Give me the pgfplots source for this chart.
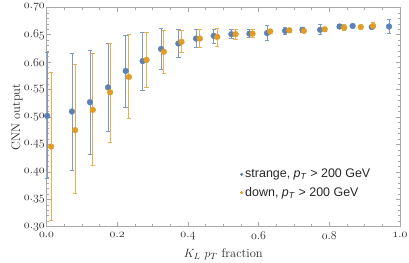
\documentclass[border=0pt]{standalone}
\usepackage{pgfplots}
\pgfplotsset{compat=1.18}
\usepackage{fontspec}
\newfontfamily\legendfont{Liberation Sans}
\definecolor{mblue}{HTML}{5E81B5}
\definecolor{morange}{HTML}{E19C24}
\definecolor{framegray}{HTML}{A8A8A8}
\newcommand\os[1]{$\mathnormal{#1}$}
\begin{document}
\begin{tikzpicture}
\begin{axis}[
  scale only axis,
  width=353.5bp, height=219.4bp,
  xmin=0, xmax=1, ymin=0.30, ymax=0.70,
  clip=false,
  axis line style={framegray, line width=0.6pt},
  every tick/.style={framegray, line width=0.5pt},
  major tick length=4.5bp, minor tick length=2.5bp,
  xtick pos=both, ytick pos=both,
  xticklabel pos=lower, yticklabel pos=left,
  xtick={0,0.2,0.4,0.6,0.8,1.0},
  xticklabels={\os{0.0},\os{0.2},\os{0.4},\os{0.6},\os{0.8},\os{1.0}},
  ytick={0.30,0.35,0.40,0.45,0.50,0.55,0.60,0.65,0.70},
  yticklabels={\os{0.30},\os{0.35},\os{0.40},\os{0.45},\os{0.50},\os{0.55},\os{0.60},\os{0.65},\os{0.70}},
  minor x tick num=3, minor y tick num=4,
  tick label style={font=\fontsize{12.5}{14}\selectfont, text=black!85},
  yticklabel style={inner sep=1pt, xshift=-0.5bp},
  xticklabel style={inner sep=1pt, yshift=-4bp},
  xlabel={$K_L$ $p_T$ fraction},
  ylabel={CNN output},
  label style={font=\fontsize{12.5}{14}\selectfont, text=black!85},
  xlabel style={at={(axis description cs:0.5,-0.127)}, anchor=center},
  ylabel style={yshift=-3bp},
  legend style={at={(0.547,0.272)}, anchor=north west, draw=none, fill=none,
    font=\legendfont\fontsize{12.5}{14}\selectfont, text=black!85, row sep=4bp, inner sep=0pt},
  legend cell align=left,
  legend image code/.code={\fill[#1] (0.15cm,0) circle (1.4pt);},
]
\coordinate (ll) at (rel axis cs:0,0);
\coordinate (ur) at (rel axis cs:1,1);
\addplot[only marks, mark=*, mark size=2.9pt, color=mblue,
  error bars/.cd, y dir=both, y explicit, error mark=|,
  error bar style={line width=0.9pt, mblue!80!white},
  error mark options={mark size=2.2pt, line width=0.9pt, mblue!80!white}]
table[x=x, y=y, y error plus=ep, y error minus=em]{
x y ep em
0.002 0.502 0.115 0.114
0.072 0.510 0.106 0.107
0.123 0.527 0.094 0.095
0.174 0.554 0.081 0.081
0.224 0.584 0.065 0.066
0.272 0.602 0.053 0.054
0.324 0.624 0.037 0.038
0.373 0.634 0.026 0.026
0.423 0.643 0.016 0.017
0.473 0.648 0.012 0.013
0.523 0.651 0.008 0.008
0.574 0.652 0.008 0.007
0.624 0.653 0.013 0.013
0.675 0.657 0.007 0.007
0.724 0.659 0.004 0.004
0.774 0.659 0.009 0.008
0.829 0.665 0.003 0.003
0.866 0.666 0.003 0.003
0.920 0.664 0.003 0.003
0.969 0.665 0.012 0.012
};
\addlegendentry{strange, \textit{p}\textsubscript{\textit{T}} > 200 GeV}
\addplot[only marks, mark=*, mark size=2.9pt, color=morange,
  error bars/.cd, y dir=both, y explicit, error mark=|,
  error bar style={line width=0.9pt, morange!80!white},
  error mark options={mark size=2.2pt, line width=0.9pt, morange!80!white}]
table[x=x, y=y, y error plus=ep, y error minus=em]{
x y ep em
0.013 0.446 0.135 0.134
0.081 0.476 0.119 0.116
0.131 0.513 0.102 0.102
0.180 0.545 0.090 0.092
0.233 0.573 0.077 0.075
0.283 0.604 0.051 0.051
0.332 0.619 0.038 0.040
0.382 0.637 0.020 0.020
0.434 0.643 0.016 0.016
0.483 0.646 0.016 0.017
0.535 0.651 0.009 0.009
0.583 0.652 0.007 0.007
0.633 0.656 0.003 0.003
0.687 0.658 0.003 0.003
0.728 0.657 0.003 0.003
0.787 0.660 0.004 0.004
0.842 0.663 0.006 0.006
0.889 0.664 0.003 0.003
0.924 0.666 0.006 0.005
};
\addlegendentry{down, \textit{p}\textsubscript{\textit{T}} > 200 GeV}
\end{axis}
\pgfresetboundingbox
\path[use as bounding box] ([shift={(-46.5bp,-36.3bp)}]ll) rectangle ([shift={(9bp,7.3bp)}]ur);
\end{tikzpicture}
\end{document}
